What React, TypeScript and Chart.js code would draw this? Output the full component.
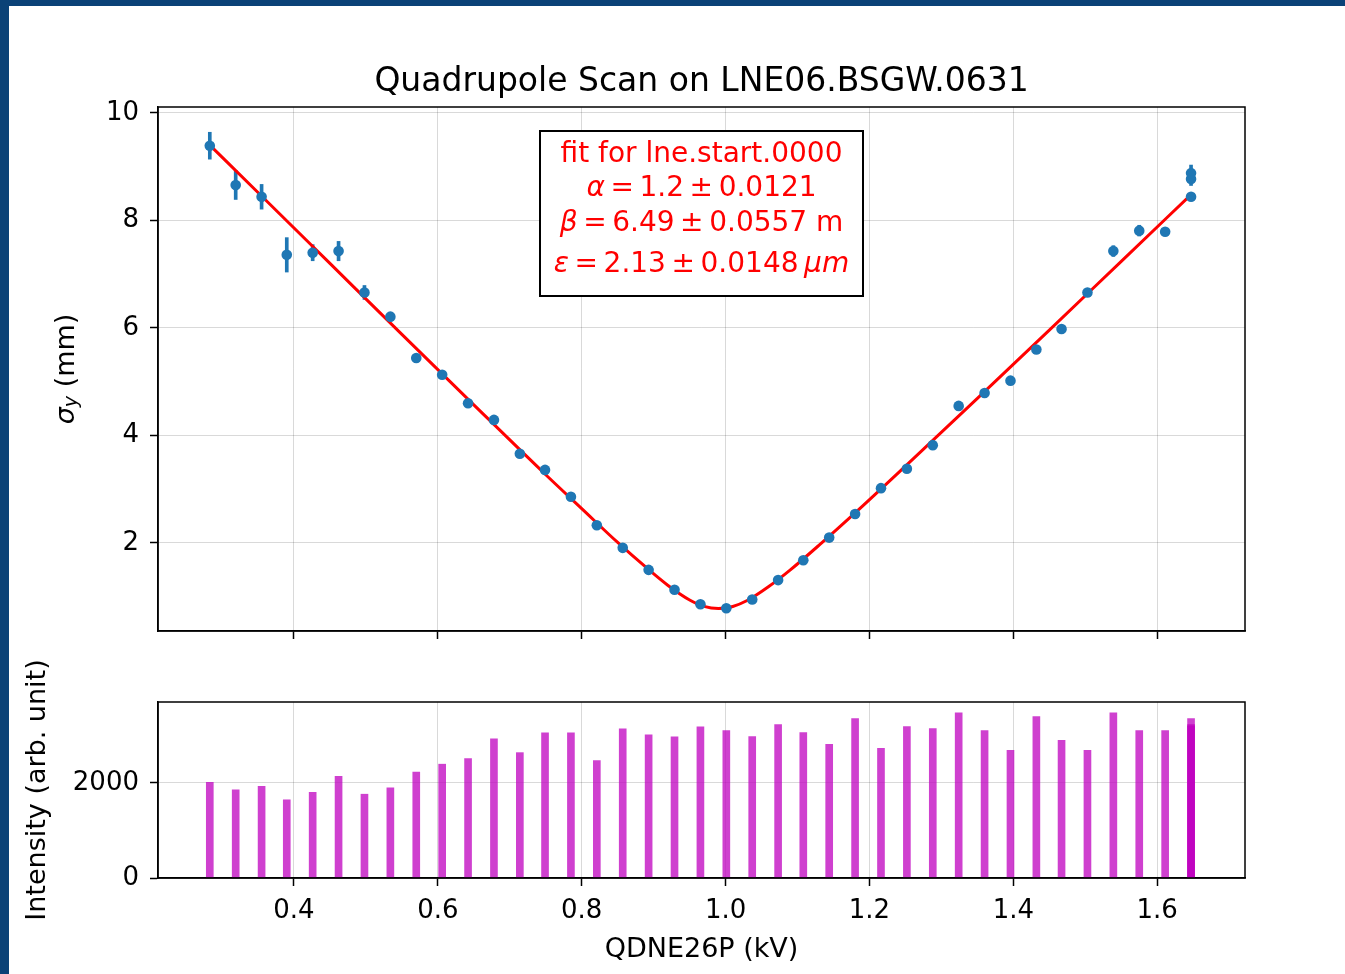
import React, { useEffect, useRef } from 'react';
import { Chart, registerables } from 'chart.js';

Chart.register(...registerables);

// ---------- data ----------
const currents = [
  0.283, 0.319, 0.355, 0.390, 0.426, 0.462, 0.498, 0.534, 0.570, 0.606,
  0.642, 0.678, 0.714, 0.749, 0.785, 0.821, 0.857, 0.893, 0.929, 0.965,
  1.001, 1.037, 1.073, 1.108, 1.144, 1.180, 1.216, 1.252, 1.288, 1.324,
  1.360, 1.396, 1.432, 1.467, 1.503, 1.539, 1.575, 1.611, 1.647, 1.647, 1.647,
];
const sigmaY = [
  9.39, 8.66, 8.44, 7.36, 7.40, 7.43, 6.66, 6.21, 5.44, 5.13,
  4.60, 4.29, 3.66, 3.36, 2.86, 2.33, 1.91, 1.50, 1.13, 0.86,
  0.785, 0.95, 1.31, 1.68, 2.10, 2.54, 3.02, 3.38, 3.82, 4.55,
  4.79, 5.02, 5.60, 5.98, 6.66, 7.43, 7.81, 7.79, 8.44, 8.77, 8.88,
];
const sigmaErr = [
  0.25, 0.27, 0.23, 0.32, 0.15, 0.18, 0.13, 0.08, 0.05, 0.04,
  0.04, 0.04, 0.04, 0.03, 0.03, 0.03, 0.03, 0.03, 0.03, 0.03,
  0.03, 0.03, 0.03, 0.03, 0.03, 0.04, 0.04, 0.04, 0.04, 0.05,
  0.05, 0.05, 0.05, 0.05, 0.06, 0.10, 0.10, 0.06, 0.06, 0.12, 0.15,
];
const intensity = [
  2014, 1854, 1931, 1646, 1806, 2139, 1764, 1896, 2229, 2396,
  2514, 2931, 2639, 3056, 3056, 2472, 3139, 3014, 2972, 3181,
  3104, 2979, 3229, 3063, 2813, 3354, 2729, 3188, 3146, 3479,
  3104, 2688, 3396, 2896, 2688, 3479, 3104, 3104, 3354, 3229, 3200,
];
const fitX = [
  0.283, 0.35, 0.45, 0.55, 0.65, 0.75, 0.80, 0.85, 0.89, 0.92, 0.95, 0.97,
  0.99, 1.01, 1.03, 1.06, 1.09, 1.13, 1.18, 1.25, 1.35, 1.45, 1.55, 1.647,
];
const fitY = [
  9.40, 8.52, 7.20, 5.88, 4.57, 3.27, 2.64, 2.01, 1.54, 1.21, 0.94, 0.82,
  0.78, 0.82, 0.93, 1.19, 1.50, 1.96, 2.56, 3.43, 4.69, 5.96, 7.24, 8.48,
];
const xTicks = [0.4, 0.6, 0.8, 1.0, 1.2, 1.4, 1.6];
const sigmaTicks = [2, 4, 6, 8, 10];
const intensityTicks = [0, 2000];
const xRange = [0.211, 1.722];
const sigmaRange = [0.363, 10.11];
const intensityRange = [0, 3705];

const titleText = 'Quadrupole Scan on LNE06.BSGW.0631';
const xTitle = 'QDNE26P (kV)';
const intensityTitle = 'Intensity (arb. unit)';
type Seg = { t: string; it?: boolean };
const TS = '\u2009';
const fitLines: Seg[][] = [
  [{ t: 'fit for lne.start.0000' }],
  [{ t: 'α', it: true }, { t: `${TS}=${TS}1.2${TS}±${TS}0.0121` }],
  [{ t: 'β', it: true }, { t: `${TS}=${TS}6.49${TS}±${TS}0.0557 m` }],
  [{ t: 'ε', it: true }, { t: `${TS}=${TS}2.13${TS}±${TS}0.0148${TS}` }, { t: 'μm', it: true }],
];

// ---------- styling ----------
const FONT = "'DejaVu Sans', sans-serif";
const GRID = 'rgba(0,0,0,0.15)';
const BLUE = '#1f77b4';
const MAGENTA = 'rgba(191,0,191,0.75)';

const framePlugin = {
  id: 'frame',
  afterDraw(chart: any) {
    const { ctx, chartArea: a } = chart;
    ctx.save();
    ctx.strokeStyle = '#000';
    ctx.lineWidth = 1.5;
    ctx.strokeRect(a.left, a.top, a.right - a.left, a.bottom - a.top);
    ctx.restore();
  },
};

const titlePlugin = {
  id: 'plotTitle',
  afterDraw(chart: any) {
    const { ctx, chartArea: a } = chart;
    ctx.save();
    ctx.fillStyle = '#000';
    ctx.font = `33px ${FONT}`;
    ctx.textAlign = 'center';
    ctx.textBaseline = 'alphabetic';
    ctx.fillText(titleText, (a.left + a.right) / 2, a.top - 16);
    ctx.restore();
  },
};

const fitBoxPlugin = {
  id: 'fitBox',
  afterDraw(chart: any) {
    const { ctx, chartArea: a } = chart;
    const cx = (a.left + a.right) / 2;
    const w = 323;
    const h = 165;
    const top = a.top + 24;
    ctx.save();
    ctx.fillStyle = '#fff';
    ctx.fillRect(cx - w / 2, top, w, h);
    ctx.strokeStyle = '#000';
    ctx.lineWidth = 2;
    ctx.strokeRect(cx - w / 2, top, w, h);
    ctx.fillStyle = '#ff0000';
    ctx.textBaseline = 'alphabetic';
    ctx.textAlign = 'left';
    const baselines = [31, 65, 100, 141];
    fitLines.forEach((segs, i) => {
      const fonts = segs.map((s) => `${s.it ? 'italic ' : ''}28px ${FONT}`);
      let total = 0;
      const widths = segs.map((s, j) => {
        ctx.font = fonts[j];
        const m = ctx.measureText(s.t).width;
        total += m;
        return m;
      });
      let x = cx - total / 2;
      segs.forEach((s, j) => {
        ctx.font = fonts[j];
        ctx.fillText(s.t, x, top + baselines[i]);
        x += widths[j];
      });
    });
    ctx.restore();
  },
};

const sigmaTitlePlugin = {
  id: 'sigmaTitle',
  afterDraw(chart: any) {
    const { ctx, chartArea: a } = chart;
    const segs = [
      { t: 'σ', font: `italic 27px ${FONT}`, dy: 0 },
      { t: 'y', font: `italic 19px ${FONT}`, dy: 5 },
      { t: ' (mm)', font: `27px ${FONT}`, dy: 0 },
    ];
    ctx.save();
    ctx.translate(67, (a.top + a.bottom) / 2);
    ctx.rotate(-Math.PI / 2);
    ctx.fillStyle = '#000';
    ctx.textBaseline = 'middle';
    ctx.textAlign = 'left';
    let total = 0;
    const ws = segs.map((s) => {
      ctx.font = s.font;
      const m = ctx.measureText(s.t).width;
      total += m;
      return m;
    });
    let x = -total / 2;
    segs.forEach((s, i) => {
      ctx.font = s.font;
      ctx.fillText(s.t, x, s.dy);
      x += ws[i];
    });
    ctx.restore();
  },
};

function gridOpts() {
  return { color: GRID, lineWidth: 1, tickColor: '#000', tickLength: 8, tickWidth: 1.5, offset: false };
}
const borderOpts = { display: true, color: '#000', width: 1.5 };

export default function App() {
  const topRef = useRef<HTMLCanvasElement | null>(null);
  const botRef = useRef<HTMLCanvasElement | null>(null);

  useEffect(() => {
    const points = currents.map((x, i) => ({ x, y: sigmaY[i] }));
    const errs = currents.map((x, i) => ({ x, y: [sigmaY[i] - sigmaErr[i], sigmaY[i] + sigmaErr[i]] }));
    const fit = fitX.map((x, i) => ({ x, y: fitY[i] }));
    const bars = currents.map((x, i) => ({ x, y: intensity[i] }));

    const top = new Chart(topRef.current as HTMLCanvasElement, {
      type: 'scatter',
      data: {
        datasets: [
          {
            type: 'scatter',
            data: points,
            pointRadius: 5.3,
            pointBackgroundColor: BLUE,
            pointBorderWidth: 0,
            order: 1,
          } as any,
          {
            type: 'line',
            data: fit,
            borderColor: '#ff0000',
            borderWidth: 3,
            pointRadius: 0,
            cubicInterpolationMode: 'monotone',
            fill: false,
            order: 2,
          } as any,
          {
            type: 'bar',
            data: errs,
            backgroundColor: BLUE,
            borderWidth: 0,
            barThickness: 3,
            order: 3,
          } as any,
        ],
      },
      options: {
        animation: false,
        responsive: false,
        devicePixelRatio: 1,
        events: [],
        layout: { padding: { left: 0, right: 100, top: 107, bottom: 0 } },
        plugins: {
          legend: { display: false },
          tooltip: { enabled: false },
          title: { display: false },
        },
        scales: {
          x: {
            type: 'linear',
            min: xRange[0],
            max: xRange[1],
            offset: false,
            afterBuildTicks: (s: any) => {
              s.ticks = xTicks.map((v) => ({ value: v }));
            },
            afterFit: (s: any) => {
              s.height = 29;
            },
            ticks: { display: false },
            grid: gridOpts(),
            border: borderOpts,
          },
          y: {
            type: 'linear',
            min: sigmaRange[0],
            max: sigmaRange[1],
            afterBuildTicks: (s: any) => {
              s.ticks = sigmaTicks.map((v) => ({ value: v }));
            },
            afterFit: (s: any) => {
              s.width = 158;
            },
            ticks: {
              color: '#000',
              padding: 11,
              font: { family: FONT, size: 26 },
              callback: (v: any) => String(v),
            },
            grid: gridOpts(),
            border: borderOpts,
          },
        },
      } as any,
      plugins: [framePlugin, titlePlugin, fitBoxPlugin, sigmaTitlePlugin],
    });

    const bot = new Chart(botRef.current as HTMLCanvasElement, {
      type: 'scatter',
      data: {
        datasets: [
          {
            type: 'bar',
            data: bars,
            backgroundColor: MAGENTA,
            borderWidth: 0,
            barThickness: 7,
          } as any,
        ],
      },
      options: {
        animation: false,
        responsive: false,
        devicePixelRatio: 1,
        events: [],
        layout: { padding: { left: 0, right: 100, top: 42, bottom: 0 } },
        plugins: { legend: { display: false }, tooltip: { enabled: false } },
        scales: {
          x: {
            type: 'linear',
            min: xRange[0],
            max: xRange[1],
            offset: false,
            afterBuildTicks: (s: any) => {
              s.ticks = xTicks.map((v) => ({ value: v }));
            },
            afterFit: (s: any) => {
              s.height = 96;
            },
            ticks: {
              color: '#000',
              padding: 10,
              maxRotation: 0,
              font: { family: FONT, size: 26 },
              callback: (v: any) => Number(v).toFixed(1),
            },
            title: {
              display: true,
              text: xTitle,
              color: '#000',
              font: { family: FONT, size: 27 },
              padding: { top: 0, bottom: 8 },
            },
            grid: gridOpts(),
            border: borderOpts,
          },
          y: {
            type: 'linear',
            min: intensityRange[0],
            max: intensityRange[1],
            afterBuildTicks: (s: any) => {
              s.ticks = intensityTicks.map((v) => ({ value: v }));
            },
            afterFit: (s: any) => {
              s.width = 158;
            },
            ticks: {
              color: '#000',
              padding: 11,
              font: { family: FONT, size: 26 },
              callback: (v: any) => String(v),
            },
            title: {
              display: true,
              text: intensityTitle,
              color: '#000',
              font: { family: FONT, size: 27 },
              padding: { top: 22, bottom: 0 },
            },
            grid: gridOpts(),
            border: borderOpts,
          },
        },
      } as any,
      plugins: [framePlugin],
    });

    return () => {
      top.destroy();
      bot.destroy();
    };
  }, []);

  return (
    <div
      style={{
        position: 'fixed',
        left: 0,
        top: 0,
        width: 1345,
        height: 974,
        background: '#0b4277',
        overflow: 'hidden',
      }}
    >
      <div style={{ position: 'absolute', left: 9, top: 6, right: 0, bottom: 0, background: '#ffffff' }} />
      <canvas
        ref={topRef}
        width={1345}
        height={660}
        style={{ position: 'absolute', left: 0, top: 0, width: 1345, height: 660 }}
      />
      <canvas
        ref={botRef}
        width={1345}
        height={314}
        style={{ position: 'absolute', left: 0, top: 660, width: 1345, height: 314 }}
      />
    </div>
  );
}
